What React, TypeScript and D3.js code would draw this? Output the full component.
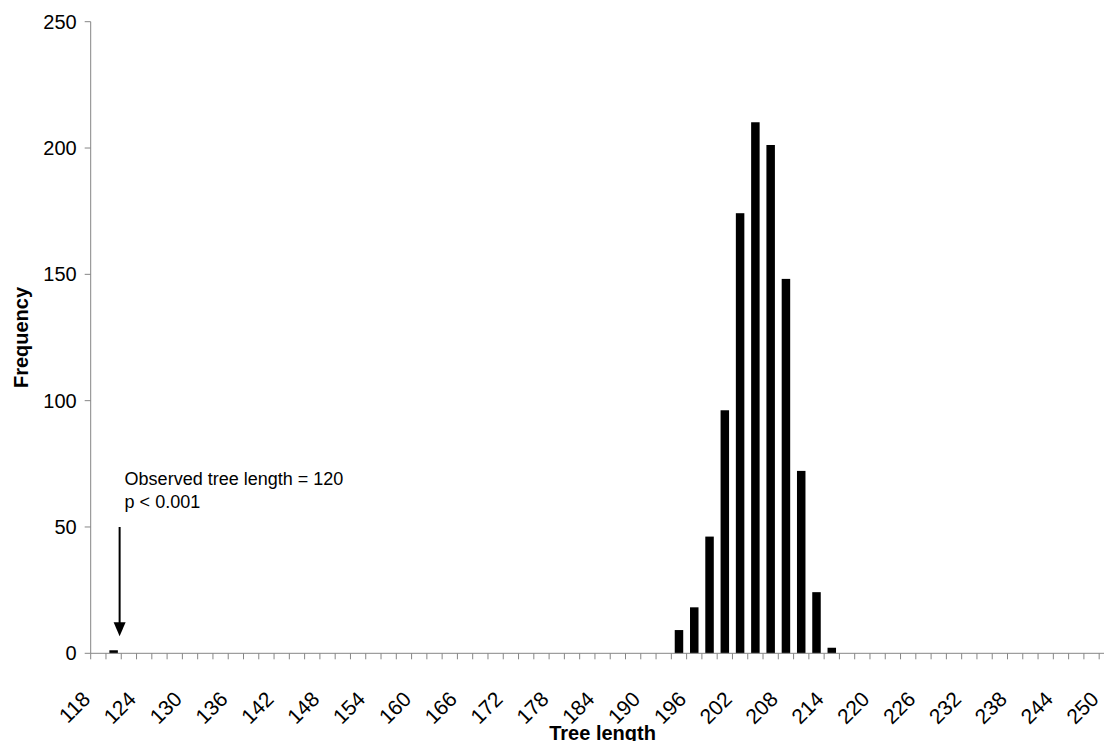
import React from "react";
import * as d3 from "d3";

// tree length classes on the category axis (step 2)
const lengths = [
  118, 120, 122, 124, 126, 128, 130, 132, 134, 136, 138, 140, 142, 144, 146, 148,
  150, 152, 154, 156, 158, 160, 162, 164, 166, 168, 170, 172, 174, 176, 178, 180,
  182, 184, 186, 188, 190, 192, 194, 196, 198, 200, 202, 204, 206, 208, 210, 212,
  214, 216, 218, 220, 222, 224, 226, 228, 230, 232, 234, 236, 238, 240, 242, 244,
  246, 248, 250,
];
// only the non-empty classes
const barLengths = [120, 194, 196, 198, 200, 202, 204, 206, 208, 210, 212, 214];
const barCounts = [1, 9, 18, 46, 96, 174, 210, 201, 148, 72, 24, 2];

const xLabels = [
  118, 124, 130, 136, 142, 148, 154, 160, 166, 172, 178, 184, 190, 196, 202, 208,
  214, 220, 226, 232, 238, 244, 250,
];
const yTicks = [0, 50, 100, 150, 200, 250];

const observed = 120;

const W = 1104,
  H = 741;
const left = 90.7,
  step = 15.28,
  top = 21.7,
  bottom = 653.3;

const axisColor = "#868686";
const font = "'Liberation Sans', Arial, sans-serif";

export default function App() {
  const x = d3
    .scaleBand<string>()
    .domain(lengths.map(String))
    .range([left, left + step * lengths.length])
    .paddingInner(0.444)
    .paddingOuter(0.222);
  const y = d3.scaleLinear().domain([0, 250]).range([bottom, top]);

  const bw = x.bandwidth();
  const gap = (x.step() - bw) / 2;
  const center = (v: number) => (x(String(v)) as number) + bw / 2;
  const bounds = lengths.map(v => (x(String(v)) as number) - gap);
  bounds.push(bounds[bounds.length - 1] + x.step());

  const ax = center(observed) + 6;

  return (
    <svg
      width={W}
      height={H}
      style={{ position: "absolute", left: 0, top: 0, background: "#fff" }}
      fontFamily={font}
    >
      {/* bars */}
      {barLengths.map((v, i) => (
        <rect
          key={v}
          x={x(String(v))}
          y={y(barCounts[i]) - 0.5}
          width={bw}
          height={y(0) - y(barCounts[i]) + 0.5}
          fill="#000"
        />
      ))}

      {/* y axis */}
      <line x1={left} x2={left} y1={top} y2={bottom} stroke={axisColor} />
      {yTicks.map(t => (
        <g key={t} transform={`translate(0,${y(t)})`}>
          <line x1={left - 6} x2={left} stroke={axisColor} />
          <text x={left - 14} dy="0.35em" textAnchor="end" fontSize={20}>
            {t}
          </text>
        </g>
      ))}

      {/* x axis */}
      <line x1={left} x2={bounds[bounds.length - 1]} y1={bottom} y2={bottom} stroke={axisColor} />
      {bounds.map((b, i) => (
        <line key={i} x1={b} x2={b} y1={bottom} y2={bottom + 6} stroke={axisColor} />
      ))}
      {xLabels.map(v => (
        <text
          key={v}
          transform={`translate(${center(v) - 12},${bottom + 42}) rotate(-45)`}
          dy="0.35em"
          textAnchor="end"
          fontSize={21}
        >
          {v}
        </text>
      ))}

      {/* axis titles */}
      <text
        x={(left + bounds[bounds.length - 1]) / 2}
        y={740}
        textAnchor="middle"
        fontSize={20}
        fontWeight="bold"
      >
        Tree length
      </text>
      <text
        transform={`translate(28,${(top + bottom) / 2}) rotate(-90)`}
        textAnchor="middle"
        fontSize={20}
        fontWeight="bold"
      >
        Frequency
      </text>

      {/* annotation */}
      <line x1={ax} x2={ax} y1={y(50)} y2={y(0) - 28} stroke="#000" strokeWidth={2} />
      <path
        d={`M${ax - 6},${y(0) - 31}L${ax + 6},${y(0) - 31}L${ax},${y(0) - 17}Z`}
        fill="#000"
      />
      <text x={center(observed) + 11} y={y(50) - 42} fontSize={18}>
        Observed tree length = 120
      </text>
      <text x={center(observed) + 11} y={y(50) - 19} fontSize={18}>
        p &lt; 0.001
      </text>
    </svg>
  );
}
